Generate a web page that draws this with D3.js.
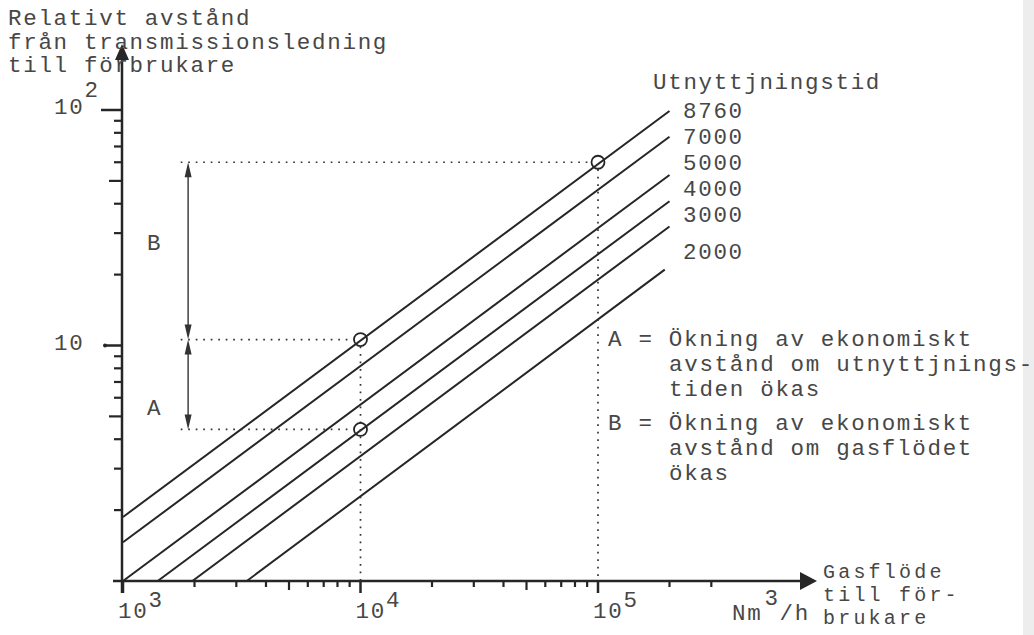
<!DOCTYPE html>
<html>
<head>
<meta charset="utf-8">
<script src="https://cdn.jsdelivr.net/npm/d3@7"></script>
<style>
  html, body { margin: 0; padding: 0; background: #ffffff; }
  svg text { font-family: "Liberation Mono", "DejaVu Sans Mono", monospace; font-size: 22.5px; letter-spacing: 1.7px; fill: #474747; }
  svg text.xtitle { font-size: 20px; letter-spacing: 3.2px; }
</style>
</head>
<body>
<svg id="chart" width="1034" height="635"></svg>
<script>
// ---- data ----
const hours      = [8760, 7000, 5000, 4000, 3000, 2000];
const startFlow  = [1000, 1000, 1000, 1400, 1960, 3320];
const startDist  = [1.87, 1.46, 1, 1, 1, 1];
const endFlow    = [2.0e5, 2.0e5, 2.0e5, 2.0e5, 2.0e5, 1.91e5];
const endDist    = [99, 77, 53, 41, 32, 21];

const markerFlow = [1e4, 1e4, 1e5];
const markerDist = [10.6, 4.4, 60];

const xMajorTicks = [1e3, 1e4, 1e5];
const xMinorTicks = [2e3, 3e3, 4e3, 5e3, 6e3, 7e3, 8e3, 9e3, 2e4, 3e4, 4e4, 5e4, 6e4, 7e4, 8e4, 9e4, 2e5, 3e5];
const yMajorTicks = [10, 100];
const yMinorTicks = [2, 3, 4, 5, 6, 7, 8, 9, 20, 30, 40, 50, 60, 70, 80, 90];
const xTickLabels = [["10", "3"], ["10", "4"], ["10", "5"]];
const yTickLabels = [["10", ""], ["10", "2"]];

const yTitle = ["Relativt avstånd", "från transmissionsledning", "till förbrukare"];
const xTitle = ["Gasflöde", "till för-", "brukare"];
const seriesTitle = "Utnyttjningstid";
const noteA = ["A = Ökning av ekonomiskt", "avstånd om utnyttjnings-", "tiden ökas"];
const noteB = ["B = Ökning av ekonomiskt", "avstånd om gasflödet", "ökas"];
const arrowFlow = 1880;      // x position (flow) of the A/B arrows
const guideStartFlow = 1750; // where horizontal dotted guides start

// ---- scales ----
const svg = d3.select("#chart");
svg.append("rect").attr("x", 1023).attr("y", 0).attr("width", 11).attr("height", 635).attr("fill", "#ededed");

const x = d3.scaleLog().domain([1e3, 1e5]).range([123, 598]);
const y = d3.scaleLog().domain([1, 100]).range([581, 110]);
const x0 = x(1e3), y0 = y(1);
const ink = "#262626";

const g = svg.append("g");

// ---- axes ----
g.append("line").attr("x1", x0 - 10).attr("x2", 800).attr("y1", y0).attr("y2", y0)
  .attr("stroke", ink).attr("stroke-width", 2.5);
g.append("path").attr("d", `M800,${y0-9} L817,${y0} L800,${y0+9} Z`).attr("fill", ink);
g.append("line").attr("x1", x0 - 1).attr("x2", x0 - 1).attr("y1", y0 + 12).attr("y2", 58)
  .attr("stroke", ink).attr("stroke-width", 2.5);
g.append("path").attr("d", `M${x0-8},60 L${x0-1},44 L${x0+6},60 Z`).attr("fill", ink);

// x ticks (downward)
g.selectAll(".xmaj").data(xMajorTicks).join("line")
  .attr("x1", d => x(d)).attr("x2", d => x(d)).attr("y1", y0).attr("y2", y0 + 12)
  .attr("stroke", ink).attr("stroke-width", 2.5);
g.selectAll(".xmin").data(xMinorTicks).join("line")
  .attr("x1", d => x(d)).attr("x2", d => x(d)).attr("y1", y0)
  .attr("y2", d => y0 + ((String(d)[0] === "5") ? 9 : 6))
  .attr("stroke", ink).attr("stroke-width", 2.2);
// y ticks (leftward)
g.selectAll(".ymaj").data(yMajorTicks).join("line")
  .attr("x1", d => x0 - (d === 100 ? 22 : 18)).attr("x2", x0).attr("y1", d => y(d)).attr("y2", d => y(d))
  .attr("stroke", ink).attr("stroke-width", 2.5);
g.append("circle").attr("cx", x0 - 18).attr("cy", y(10)).attr("r", 2).attr("fill", ink);
g.selectAll(".ymin").data(yMinorTicks).join("line")
  .attr("x1", d => x0 - ((String(d)[0] === "5") ? 14 : 9)).attr("x2", x0).attr("y1", d => y(d)).attr("y2", d => y(d))
  .attr("stroke", ink).attr("stroke-width", 2.2);

// tick labels
const xl = g.selectAll(".xlab").data(xMajorTicks).join("text")
  .attr("x", d => x(d) - 5).attr("y", 618);
xl.append("tspan").text((d, i) => xTickLabels[i][0]);
xl.append("tspan").attr("dy", -11).text((d, i) => xTickLabels[i][1]);

const yl = g.selectAll(".ylab").data(yMajorTicks).join("text")
  .attr("x", 54).attr("y", d => y(d) + 4);
yl.append("tspan").text((d, i) => yTickLabels[i][0]);
yl.append("tspan").attr("dy", -17).text((d, i) => yTickLabels[i][1]);

// axis titles
g.selectAll(".ytitle").data(yTitle).join("text")
  .attr("x", 8).attr("y", (d, i) => 25 + i * 23.5).text(d => d);
g.selectAll(".xtitle").data(xTitle).join("text").attr("class", "xtitle")
  .attr("x", 823).attr("y", (d, i) => 578 + i * 23).text(d => d);
const unit = g.append("text").attr("x", 732).attr("y", 620);
unit.append("tspan").text("Nm");
unit.append("tspan").attr("dy", -15).attr("dx", 2).text("3");
unit.append("tspan").attr("dy", 15).text("/h");

// ---- series lines ----
g.selectAll(".series").data(hours).join("line")
  .attr("x1", (d, i) => x(startFlow[i])).attr("y1", (d, i) => y(startDist[i]))
  .attr("x2", (d, i) => x(endFlow[i])).attr("y2", (d, i) => y(endDist[i]))
  .attr("stroke", ink).attr("stroke-width", 2);

g.append("text").attr("x", 653).attr("y", 89).text(seriesTitle);
const labelY = [118, 144, 170, 196, 222, 259];
g.selectAll(".slab").data(hours).join("text")
  .attr("x", 683).attr("y", (d, i) => labelY[i]).text(d => d);

// ---- dotted guides ----
const dot = sel => sel.attr("stroke", "#333").attr("stroke-width", 1.7)
  .attr("stroke-dasharray", "1.7,5.8").attr("fill", "none");
[0, 2].forEach(i => {
  g.append("line").attr("x1", x(markerFlow[i])).attr("x2", x(markerFlow[i]))
    .attr("y1", y(markerDist[i]) + 7).attr("y2", y0).call(dot);
});
markerFlow.forEach((f, i) => {
  g.append("line").attr("x1", x(guideStartFlow)).attr("x2", x(f) - 7)
    .attr("y1", y(markerDist[i])).attr("y2", y(markerDist[i])).call(dot);
});

// markers
g.selectAll(".mk").data(markerFlow).join("circle")
  .attr("cx", d => x(d)).attr("cy", (d, i) => y(markerDist[i])).attr("r", 6.5)
  .attr("fill", "none").attr("stroke", ink).attr("stroke-width", 1.8);

// ---- A / B arrows ----
const ax = x(arrowFlow);
function dblArrow(v1, v2) {
  const ya = y(v1), yb = y(v2); // ya lower (bigger pixel), yb upper
  g.append("line").attr("x1", ax).attr("x2", ax).attr("y1", ya - 4).attr("y2", yb + 4)
    .attr("stroke", "#333").attr("stroke-width", 1.4);
  g.append("path").attr("d", `M${ax},${yb} L${ax-3.5},${yb+15} L${ax+3.5},${yb+15} Z`).attr("fill", "#333");
  g.append("path").attr("d", `M${ax},${ya} L${ax-3.5},${ya-15} L${ax+3.5},${ya-15} Z`).attr("fill", "#333");
}
dblArrow(markerDist[0], markerDist[2]);
dblArrow(markerDist[1], markerDist[0]);
g.append("text").attr("x", 147).attr("y", 250).text("B");
g.append("text").attr("x", 147).attr("y", 415).text("A");

// ---- notes ----
g.selectAll(".na").data(noteA).join("text")
  .attr("x", (d, i) => i === 0 ? 608 : 669).attr("y", (d, i) => 346 + i * 25).text(d => d);
g.selectAll(".nb").data(noteB).join("text")
  .attr("x", (d, i) => i === 0 ? 608 : 669).attr("y", (d, i) => 430 + i * 25).text(d => d);
</script>
</body>
</html>
